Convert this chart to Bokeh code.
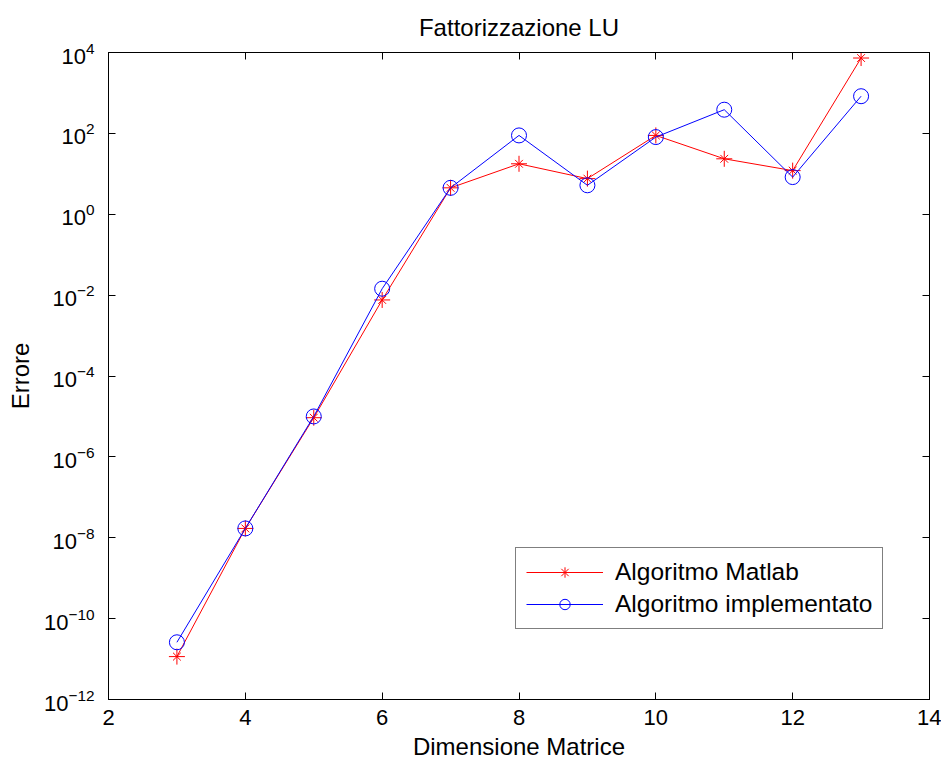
from bokeh.plotting import figure
from bokeh.models import FixedTicker, LinearAxis, LogAxis, Legend, LegendItem, CustomJSTickFormatter
from bokeh.embed import file_html
from bokeh.resources import INLINE

# ---- data ----
dims = [3, 4, 5, 6, 7, 8, 9, 10, 11, 12, 13]
err_matlab = [1.15e-11, 1.7e-8, 9.3e-6, 7.6e-3, 4.5, 17.7, 7.6, 89, 23.5, 12, 7300]
err_impl = [2.6e-11, 1.7e-8, 1.0e-5, 1.44e-2, 4.5, 89, 5.2, 81, 385, 8.3, 830]
x_ticks = [2, 4, 6, 8, 10, 12, 14]
y_ticks = [1e-12, 1e-10, 1e-8, 1e-6, 1e-4, 1e-2, 1e0, 1e2, 1e4]

FONT = "Liberation Sans"

p = figure(frame_width=821, frame_height=647,
           min_border_left=108, min_border_right=12,
           min_border_top=52, min_border_bottom=59,
           x_range=(2, 14), y_range=(1e-12, 1e4), y_axis_type="log",
           output_backend="svg", toolbar_location=None,
           title="Fattorizzazione LU")

p.title.text_font = FONT
p.title.text_font_size = "24px"
p.title.text_font_style = "normal"
p.title.align = "center"
p.title.text_color = "black"
p.title.standoff = 23

p.grid.visible = False
p.outline_line_color = "black"
p.background_fill_color = "white"
p.border_fill_color = "white"

for ax in p.xaxis:
    ax.ticker = FixedTicker(ticks=x_ticks)
for ax in p.yaxis:
    ax.ticker = FixedTicker(ticks=y_ticks)

for ax in list(p.xaxis) + list(p.yaxis):
    ax.major_tick_in = 7
    ax.major_tick_out = 0
    ax.minor_tick_line_color = None
    ax.axis_line_color = "black"
    ax.major_tick_line_color = "black"
    ax.major_label_text_font = FONT
    ax.major_label_text_font_size = "22px"
    ax.major_label_text_color = "black"
    ax.axis_label_text_font = FONT
    ax.axis_label_text_font_size = "24px"
    ax.axis_label_text_font_style = "normal"
    ax.axis_label_text_color = "black"

p.xaxis.axis_label = "Dimensione Matrice"
p.yaxis.axis_label = "Errore"
p.xaxis.major_label_standoff = 10
p.yaxis.major_label_standoff = 14
p.xaxis.axis_label_standoff = 5
p.yaxis.axis_label_standoff = 7

# mirrored tick axes on top and right (no labels)
top = LinearAxis(ticker=FixedTicker(ticks=x_ticks), formatter=CustomJSTickFormatter(code="return ''"),
                 major_tick_in=7, major_tick_out=0,
                 minor_tick_line_color=None, major_label_standoff=0, axis_line_color="black")
right = LogAxis(ticker=FixedTicker(ticks=y_ticks), formatter=CustomJSTickFormatter(code="return ''"),
                major_tick_in=7, major_tick_out=0,
                minor_tick_line_color=None, major_label_standoff=0, axis_line_color="black")
p.add_layout(top, "above")
p.add_layout(right, "right")

r_line1 = p.line(dims, err_matlab, line_color="#ff0000", line_width=1)
r_mk1a = p.scatter(dims, err_matlab, marker="cross", size=16, line_color="#ff0000", line_width=1)
r_mk1b = p.scatter(dims, err_matlab, marker="x", size=11, line_color="#ff0000", line_width=1)
r_line2 = p.line(dims, err_impl, line_color="#0000ff", line_width=1)
r_mk2 = p.scatter(dims, err_impl, marker="circle", size=15, line_color="#0000ff",
                  fill_color=None, line_width=1)

legend = Legend(items=[
    LegendItem(label="Algoritmo Matlab", renderers=[r_line1, r_mk1a, r_mk1b]),
    LegendItem(label="Algoritmo implementato", renderers=[r_line2, r_mk2]),
], location=(407, 70))
legend.label_text_font = FONT
legend.label_text_font_size = "24.5px"
legend.label_text_color = "black"
legend.border_line_color = "black"
legend.border_line_width = 1
legend.background_fill_alpha = 1
legend.padding = 10
legend.spacing = 4
legend.glyph_width = 77
legend.glyph_height = 26
legend.label_height = 26
legend.label_standoff = 12
legend.margin = 0
p.add_layout(legend, "center")

open("out.html", "w").write(file_html(p, INLINE))
